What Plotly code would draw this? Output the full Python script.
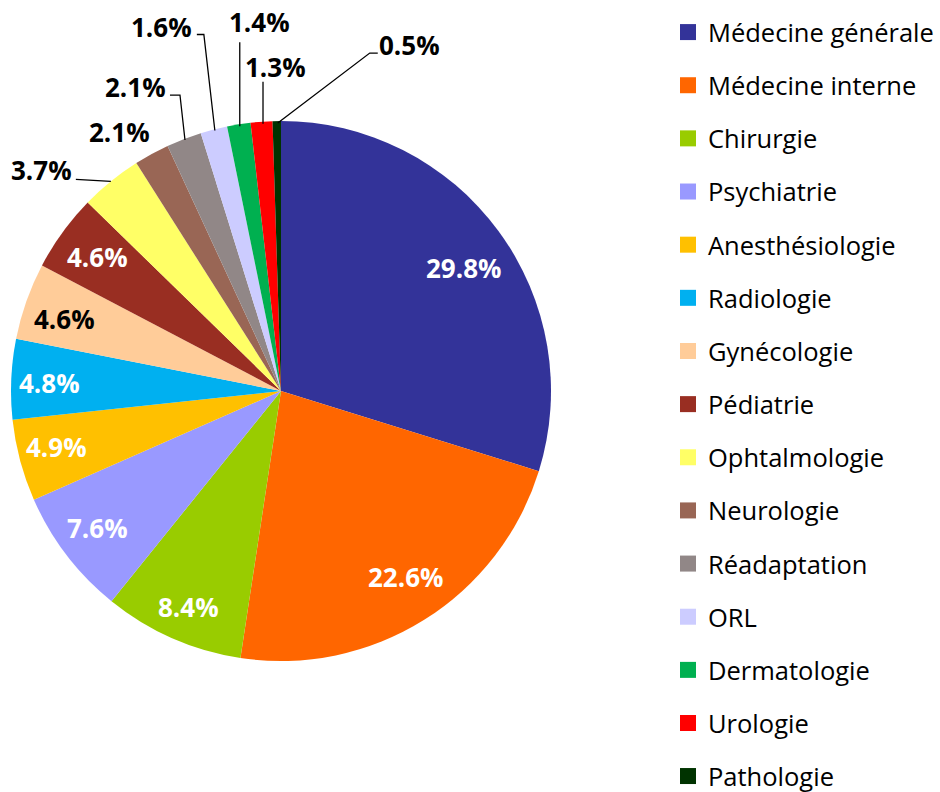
import math
import plotly.graph_objects as go

# ---------------- data ----------------
categories = ["Médecine générale", "Médecine interne", "Chirurgie", "Psychiatrie",
              "Anesthésiologie", "Radiologie", "Gynécologie", "Pédiatrie",
              "Ophtalmologie", "Neurologie", "Réadaptation", "ORL",
              "Dermatologie", "Urologie", "Pathologie"]
values = [29.8, 22.6, 8.4, 7.6, 4.9, 4.8, 4.6, 4.6, 3.7, 2.1, 2.1, 1.6, 1.4, 1.3, 0.5]

# ---------------- style ----------------
colors = ["#333399", "#FF6600", "#99CC00", "#9999FF", "#FFC000", "#00B0F0",
          "#FFCC99", "#992E22", "#FFFF66", "#996655", "#918787", "#CCCCFF",
          "#00B050", "#FF0000", "#003300"]
label_colors = ["white", "white", "white", "white", "white", "white", "black", "white"]
# inside labels: (radial factor, angle offset in degrees)
inside_pos = [(0.814, 2.3), (0.829, -1.8), (0.869, -0.5), (0.848, 0.8),
              (0.856, 0.9), (0.859, -0.5), (0.844, -1.1), (0.84, 0.2)]
# outside labels: text offset from slice edge (px) and leader line points (px, relative to edge)
outside = {
    8: dict(t=(-69, -11), line=[(0, 0), (-35, -2)]),
    9: dict(t=(-32, -22), line=None),
    10: dict(t=(-48, -52), line=[(1, 1), (-4, -44), (-14, -44)]),
    11: dict(t=(-52, -102), line=[(1, 1), (-10, -95), (-17, -95)]),
    12: dict(t=(21, -102), line=[(1, 2), (1, -82)]),
    13: dict(t=(13.5, -55), line=[(1.5, 2), (1.5, -40)]),
    14: dict(t=(133, -76), line=[(1, 2), (93, -68), (101, -68)]),
}

W, H = 940, 792
CX, CY, R = 281, 391, 270
FONT = "Open Sans"
FS = 26
LEG_FS = 25.5
N_MAIN_LEGEND = 14   # remaining entries go into a second legend at the bottom


def px_to_paper(x, y):
    return x / W, 1 - y / H


fig = go.Figure()
x0, y1 = px_to_paper(CX - R, CY - R)
x1, y0 = px_to_paper(CX + R, CY + R)
fig.add_trace(go.Pie(
    labels=categories, values=values, sort=False, direction="clockwise", rotation=0,
    marker=dict(colors=colors, line=dict(width=0)),
    textinfo="none", showlegend=False, hoverinfo="label+percent",
    domain=dict(x=[x0, x1], y=[y0, y1]),
))

# legend entries
for k, (c, col) in enumerate(zip(categories, colors)):
    fig.add_trace(go.Scatter(x=[None], y=[None], mode="markers", name=c, legendgroup=c,
                             legend="legend" if k < N_MAIN_LEGEND else "legend2",
                             marker=dict(symbol="square", size=16, color=col), showlegend=True))

total = sum(values)
annotations = []
shapes = []
cum = 0.0
for i, v in enumerate(values):
    mid_deg = (cum + v / 2) / total * 360
    cum += v
    txt = f"{v:.1f}%"
    if i in outside:
        a = math.radians(mid_deg)
        s, c = math.sin(a), math.cos(a)
        ex, ey = CX + R * s, CY - R * c
        tx, ty = ex + outside[i]["t"][0], ey + outside[i]["t"][1]
        color = "black"
        if outside[i]["line"]:
            pts = [px_to_paper(ex + dx, ey + dy) for dx, dy in outside[i]["line"]]
            path = "M " + " L ".join(f"{p[0]},{p[1]}" for p in pts)
            shapes.append(dict(type="path", xref="paper", yref="paper", path=path,
                               line=dict(color="black", width=1.3)))
    else:
        f, da = inside_pos[i]
        a = math.radians(mid_deg + da)
        tx, ty = CX + f * R * math.sin(a), CY - f * R * math.cos(a)
        color = label_colors[i]
    px, py = px_to_paper(tx, ty)
    annotations.append(dict(x=px, y=py, xref="paper", yref="paper", text=f"<b>{txt}</b>",
                            showarrow=False, xanchor="center", yanchor="middle",
                            font=dict(family=FONT, size=FS, color=color)))

legend_style = dict(xanchor="left", yanchor="top",
                    font=dict(family=FONT, size=LEG_FS, color="black"),
                    tracegroupgap=17.0, itemsizing="trace", bgcolor="rgba(0,0,0,0)")
lx, ly = px_to_paper(668, 9)
lx2, ly2 = px_to_paper(668, 9 + 53.14 * N_MAIN_LEGEND)
fig.update_layout(
    width=W, height=H,
    margin=dict(l=0, r=0, t=0, b=0, autoexpand=False),
    paper_bgcolor="white", plot_bgcolor="white",
    xaxis=dict(visible=False), yaxis=dict(visible=False),
    annotations=annotations, shapes=shapes,
    showlegend=True,
    legend=dict(x=lx, y=ly, **legend_style),
    legend2=dict(x=lx2, y=ly2, **legend_style),
)

fig.write_html("out.html", config={"displayModeBar": False},
               post_script="document.body.style.margin='0';")
